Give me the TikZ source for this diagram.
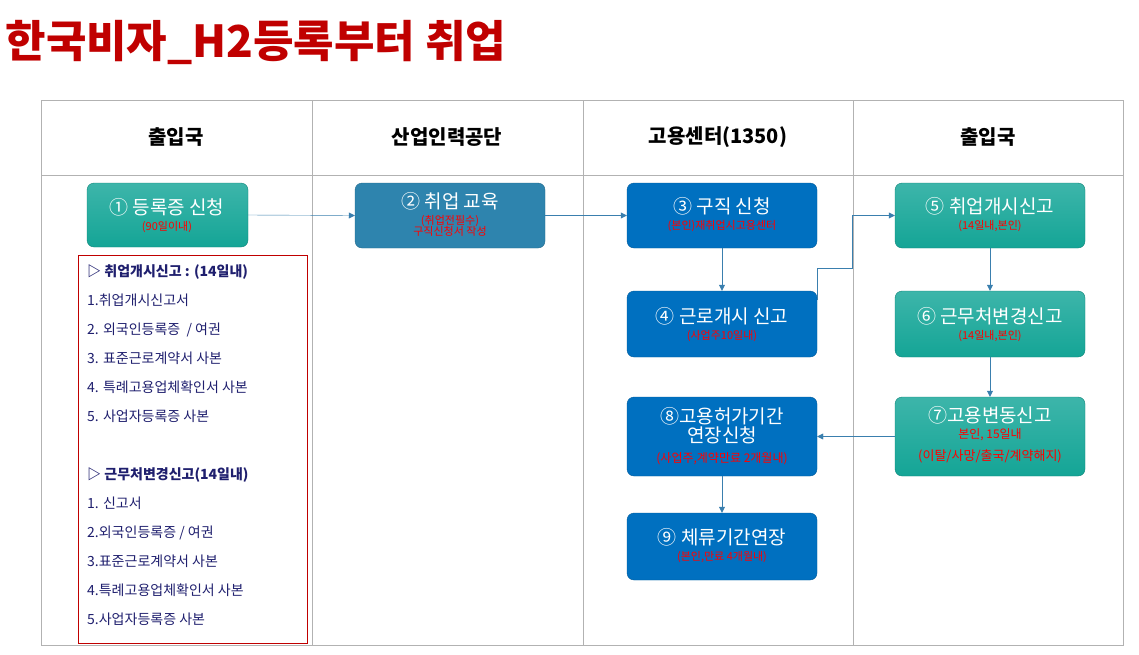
\documentclass[tikz,border=0pt]{standalone}
\usepackage{fontspec}
\setmainfont{Noto Sans CJK KR}
\usetikzlibrary{arrows.meta,calc}
\definecolor{tealbox}{HTML}{14A596}
\definecolor{tealtop}{HTML}{3DB5AA}
\definecolor{edubox}{HTML}{2E84AE}
\definecolor{bluebox}{HTML}{0070C0}
\definecolor{flowline}{HTML}{3A7FAE}
\definecolor{titlered}{HTML}{C00000}
\definecolor{listblue}{HTML}{1F1F6E}
\tikzset{
  stepteal/.style={draw=tealbox!80!black,rounded corners=7pt,top color=tealtop,bottom color=tealbox,text=white,align=center,inner sep=0pt},
  stepedu/.style={draw=edubox!80!black,rounded corners=7pt,fill=edubox,text=white,align=center,inner sep=0pt},
  stepblue/.style={draw=bluebox!80!black,rounded corners=7pt,fill=bluebox,text=white,align=center,inner sep=0pt},
  flow/.style={draw=flowline,-{Triangle[length=6pt,width=6pt]}},
  head/.style={font=\fontsize{20}{24}\selectfont\bfseries,text=black},
  note/.style={text=red,font=\fontsize{11}{13}\selectfont},
}
\newcommand{\boxat}[5]{% style, name, x1,y1 / x2,y2
  \path[#1] (#3) rectangle (#4) coordinate (#2-ne);
  \coordinate (#2) at ($(#3)!0.5!(#4)$);
  #5}
\begin{document}
\begin{tikzpicture}[x=1pt,y=-1pt]
  \useasboundingbox (0,0) rectangle (1139,654);
  \node[anchor=west,text=titlered,font=\fontsize{44}{48}\selectfont\bfseries] (title) at (2,42) {한국비자\_H2등록부터 취업};
  % table
  \draw[gray!60] (41,100) rectangle (1123,645);
  \draw[gray!60] (41,175) -- (1123,175);
  \foreach \x in {312,583,853} \draw[gray!60] (\x,100) -- (\x,645);
  \node[head] (h1) at (176,137) {출입국};
  \node[head] (h2) at (447,137) {산업인력공단};
  \node[head] (h3) at (718,137) {고용센터(1350)};
  \node[head] (h4) at (988,137) {출입국};
  % steps
  \node[stepteal,minimum width=161pt,minimum height=64pt] (n1) at (167.5,215) {};
  \node[stepedu,minimum width=190pt,minimum height=65pt] (n2) at (450,215.5) {};
  \node[stepblue,minimum width=190pt,minimum height=65pt] (n3) at (722,215.5) {};
  \node[stepblue,minimum width=190pt,minimum height=66pt] (n4) at (722,324) {};
  \node[stepteal,minimum width=190pt,minimum height=65pt] (n5) at (990,215.5) {};
  \node[stepteal,minimum width=190pt,minimum height=66pt] (n6) at (990,324) {};
  \node[stepteal,minimum width=190pt,minimum height=79pt] (n7) at (990,436.5) {};
  \node[stepblue,minimum width=190pt,minimum height=79pt] (n8) at (722,436.5) {};
  \node[stepblue,minimum width=190pt,minimum height=67pt] (n9) at (722,546.5) {};
  % texts
  \node[text=white,font=\fontsize{19}{22}\selectfont] (t1) at (167,207) {① 등록증 신청};
  \node[note] (s1) at (167,227) {(90일이내)};
  \node[text=white,font=\fontsize{19}{22}\selectfont] (t2) at (450,201) {② 취업 교육};
  \node[note,align=center] (s2) at (450,226) {(취업전필수)\\[-2pt]구직신청서 작성};
  \node[text=white,font=\fontsize{19}{22}\selectfont] (t3) at (722,206) {③ 구직 신청};
  \node[note] (s3) at (722,226) {(본인)재취업시고용센터};
  \node[text=white,font=\fontsize{19}{22}\selectfont] (t4) at (722,316) {④ 근로개시 신고};
  \node[note] (s4) at (722,336) {(사업주10일내)};
  \node[text=white,font=\fontsize{19}{22}\selectfont] (t5) at (990,206) {⑤ 취업개시신고};
  \node[note] (s5) at (990,226) {(14일내,본인)};
  \node[text=white,font=\fontsize{19}{22}\selectfont] (t6) at (990,316) {⑥ 근무처변경신고};
  \node[note] (s6) at (990,336) {(14일내,본인)};
  \node[text=white,font=\fontsize{19}{22}\selectfont] (t7) at (990,415) {⑦고용변동신고};
  \node[note,font=\fontsize{12}{14}\selectfont] (s7) at (990,435) {본인, 15일내};
  \node[note,font=\fontsize{13}{15}\selectfont] (s7b) at (990,456) {(이탈/사망/출국/계약해지)};
  \node[text=white,font=\fontsize{19}{22}\selectfont,align=center] (t8) at (722,426) {⑧고용허가기간\\[-3pt]연장신청};
  \node[note,font=\fontsize{12}{14}\selectfont] (s8) at (722,459) {(사업주,계약만료 2개월내)};
  \node[text=white,font=\fontsize{19}{22}\selectfont] (t9) at (722,537) {⑨ 체류기간연장};
  \node[note] (s9) at (722,557) {(본인,만료 4개월내)};
  % connectors
  \draw[flow] (n1.east) -- (n2.west);
  \draw[flow] (n2.east) -- (n3.west);
  \draw[flow] (n3.south) -- (n4.north);
  \coordinate (c1) at (817,268);
  \coordinate (c2) at (852,268);
  \coordinate (c3) at (852,215.5);
  \draw[flow] (n4.north east) ++(0,9) |- (c2) -- (c3) -- (n5.west);
  \draw[flow] (n5.south) -- (n6.north);
  \draw[flow] (n6.south) -- (n7.north);
  \draw[flow] (n7.west) -- (n8.east);
  \draw[flow] (n8.south) -- (n9.north);
  % document list
  \node[draw=titlered,anchor=north west,minimum width=229pt,minimum height=388pt,inner sep=0pt] (docs) at (78,255) {};
  \node[anchor=north west,text=listblue,font=\fontsize{14}{29}\selectfont,align=left,inner sep=0pt] (doclist) at (87,264) {%
    {\bfseries ▷ 취업개시신고 : (14일내)}\\
    1.취업개시신고서\\
    2. 외국인등록증 \ / 여권\\
    3. 표준근로계약서 사본\\
    4. 특례고용업체확인서 사본\\
    5. 사업자등록증 사본\\[29pt]
    {\bfseries ▷ 근무처변경신고(14일내)}\\
    1. 신고서\\
    2.외국인등록증 / 여권\\
    3.표준근로계약서 사본\\
    4.특례고용업체확인서 사본\\
    5.사업자등록증 사본};
\end{tikzpicture}
\end{document}
